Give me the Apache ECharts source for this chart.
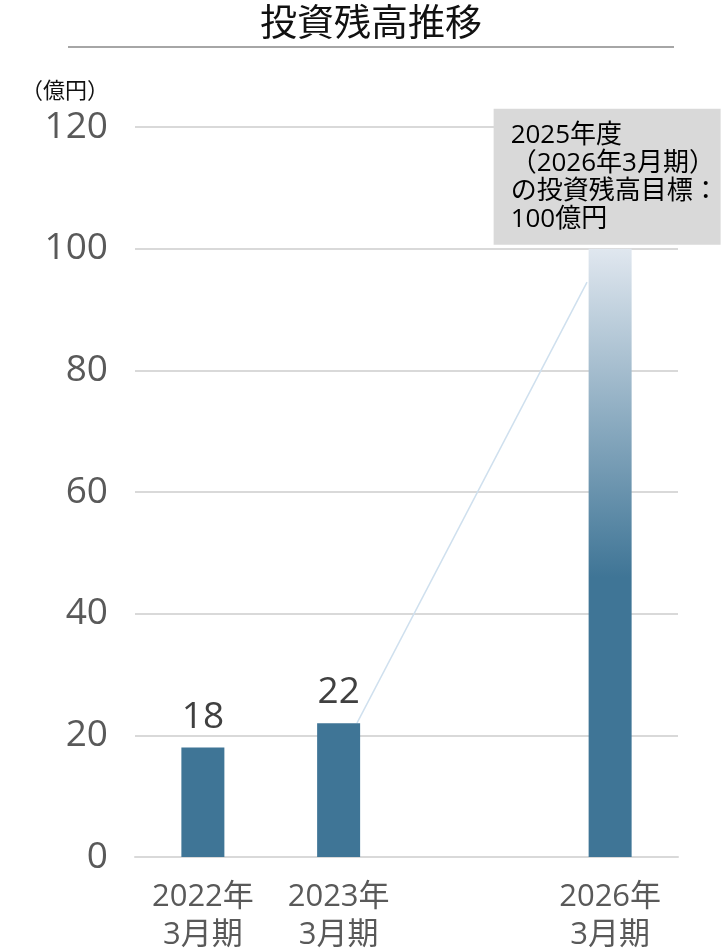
<!DOCTYPE html>
<html>
<head>
<meta charset="utf-8">
<script src="https://cdn.jsdelivr.net/npm/echarts@6/dist/echarts.min.js"></script>
<style>
  html, body { margin: 0; padding: 0; background: #fff; }
  #chart { width: 728px; height: 948px; }
</style>
</head>
<body>
<div id="chart"></div>
<script>
// 期ごとのカテゴリ（3つ目は空き枠）
var categories = ['2022年\n3月期', '2023年\n3月期', '', '2026年\n3月期'];
// 投資残高（億円）
var balances = [18, 22, null, 100];
// 目標ボックスの文言
var targetNote = ['2025年度', '（2026年3月期）', 'の投資残高目標：', '100億円'];
// 2023年の棒から目標の棒へ伸びる補助線（x: 区分単位, y: 億円）
var guideLine = [[1.635, 22], [3.33, 94.5]];
var yTicks = { min: 0, max: 120, interval: 20 };

var font = '"Open Sans", "Noto Sans CJK JP", sans-serif';
var barColor = '#3f7596';

var chart = echarts.init(document.getElementById('chart'));

var barData = balances.map(function (v, i) {
    if (i === 3) {
        return {
            value: v,
            itemStyle: {
                color: new echarts.graphic.LinearGradient(0, 0, 0, 1, [
                    { offset: 0, color: '#e0e7ef' },
                    { offset: 0.54, color: barColor },
                    { offset: 1, color: barColor }
                ])
            },
            label: {
                show: true,
                position: 'top',
                distance: 4,
                offset: [-3, 0],
                formatter: '{t|' + targetNote.join('\n') + '}',
                backgroundColor: '#d9d9d9',
                padding: [13, 16, 11, 17],
                align: 'center',
                rich: {
                    t: {
                        width: 194,
                        align: 'left',
                        color: '#000',
                        fontSize: 26,
                        lineHeight: 28,
                        fontFamily: font
                    }
                }
            }
        };
    }
    return v;
});

var option = {
    animation: false,
    grid: { left: 135, right: 50, top: 127, bottom: 91, outerBoundsMode: 'none' },
    graphic: [
        {
            type: 'text', x: 371, y: 25,
            style: {
                text: '投資残高推移',
                fill: '#111', font: '37px ' + font,
                textAlign: 'center', textVerticalAlign: 'middle'
            }
        },
        {
            type: 'line',
            shape: { x1: 68, y1: 47, x2: 674, y2: 47 },
            style: { stroke: '#a6a6a6', lineWidth: 2 }
        },
        {
            type: 'text', x: 21, y: 92,
            style: {
                text: '（億円）', fill: '#111', font: '22px ' + font,
                textVerticalAlign: 'middle'
            }
        }
    ],
    xAxis: [
        {
            type: 'category',
            data: categories,
            axisTick: { show: false },
            axisLine: { lineStyle: { color: '#d9d9d9', width: 2 } },
            axisLabel: {
                color: '#595959', fontSize: 31, lineHeight: 38,
                margin: 21, fontFamily: font, interval: 0
            }
        },
        { type: 'value', min: 0, max: 4, show: false }
    ],
    yAxis: {
        type: 'value',
        min: yTicks.min, max: yTicks.max, interval: yTicks.interval,
        axisLine: { show: false },
        axisTick: { show: false },
        axisLabel: { color: '#595959', fontSize: 37, margin: 27, fontFamily: font },
        splitLine: { lineStyle: { color: '#d9d9d9', width: 2 } }
    },
    series: [
        {
            type: 'line',
            xAxisIndex: 1,
            data: guideLine,
            symbol: 'none',
            lineStyle: { color: '#cfe0ee', width: 1.5 },
            z: 1
        },
        {
            type: 'bar',
            data: barData,
            barWidth: 43,
            itemStyle: { color: barColor },
            label: {
                show: true, position: 'top', distance: 12,
                color: '#404040', fontSize: 37, fontFamily: font
            },
            z: 2
        }
    ]
};

chart.setOption(option);
</script>
</body>
</html>
